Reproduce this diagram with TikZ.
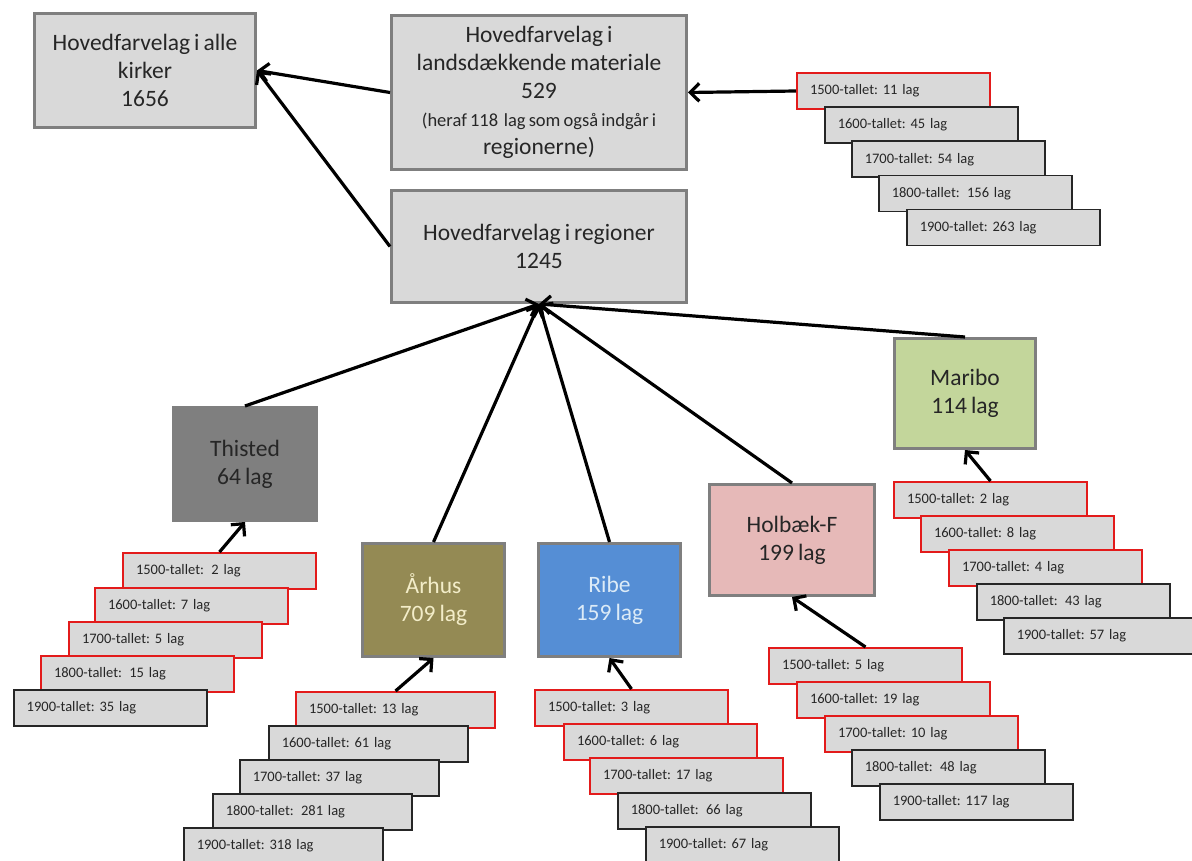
\documentclass[tikz,border=0pt]{standalone}
\usepackage{fontspec}
\setmainfont[WordSpace=0.75]{Carlito}
\newfontfamily\lagfont[WordSpace=0.55]{Carlito}
\usetikzlibrary{arrows.meta}
\definecolor{boxgray}{HTML}{D9D9D9}
\definecolor{edgegray}{HTML}{7F7F7F}
\definecolor{txt}{HTML}{262626}
\definecolor{lagred}{HTML}{E31B1B}
\definecolor{lagblack}{HTML}{262626}
\definecolor{thistedfill}{HTML}{7F7F7F}
\definecolor{aarhusfill}{HTML}{948A54}
\definecolor{aarhustxt}{HTML}{F3EDC9}
\definecolor{ribefill}{HTML}{558ED5}
\definecolor{ribetxt}{HTML}{DCEBF7}
\definecolor{holbaekfill}{HTML}{E6B9B8}
\definecolor{maribofill}{HTML}{C3D69B}
\newcommand\xsp{\hspace{2.5pt}}
\frenchspacing
\tikzset{
  mainbox/.style={draw=edgegray, line width=3pt, fill=boxgray, text=txt, align=center,
    inner sep=0pt, anchor=north west, font=\frenchspacing\fontsize{23.5}{28}\selectfont},
  regbox/.style={mainbox, fill=#1},
  lagbox/.style={fill=boxgray, text=txt, align=left, anchor=north west,
    inner xsep=13pt, inner ysep=0pt, text width=167pt, minimum height=36pt,
    font=\lagfont\frenchspacing\fontsize{14.5}{16}\selectfont},
  widelag/.style={text width=173pt},
  redlag/.style={lagbox, draw=lagred, line width=2pt},
  blacklag/.style={lagbox, draw=lagblack, line width=1.5pt},
  arr/.style={line width=3.2pt, draw=black, -{Straight Barb[length=9pt,width=18pt]}}
}
\begin{document}
\begin{tikzpicture}[x=1pt,y=-1pt]
\useasboundingbox (0,0) rectangle (1192,861);

% main boxes
\node[mainbox, minimum width=221pt, minimum height=114pt] (kirker) at (33,12)
  {Hovedfarvelag i alle\\kirker\\1656};
\node[mainbox, minimum width=295pt, minimum height=154pt] (lands) at (390,14)
  {Hovedfarvelag i\\landsdækkende materiale\\529\\\fontsize{18.5}{27}\selectfont (heraf 118\xsp{} lag som også indgår i\\regionerne)};
\node[mainbox, minimum width=295pt, minimum height=112pt] (regioner) at (390,189)
  {Hovedfarvelag i regioner\\1245};

% region boxes
\node[regbox=thistedfill, draw=thistedfill, minimum width=143pt, minimum height=113pt] (thisted) at (172,406)
  {Thisted\\64 lag};
\node[regbox=aarhusfill, text=aarhustxt, minimum width=142pt, minimum height=113pt] (aarhus) at (361,542)
  {Århus\\709 lag};
\node[regbox=ribefill, text=ribetxt, minimum width=142pt, minimum height=113pt] (ribe) at (537,542)
  {Ribe\\159 lag};
\node[regbox=holbaekfill, minimum width=165pt, minimum height=111pt] (holbaek) at (708,483)
  {Holbæk-F\\199 lag};
\node[regbox=maribofill, minimum width=141pt, minimum height=110pt] (maribo) at (893,337)
  {Maribo\\114 lag};

% national stack
\node[redlag]   (n1) at (796,72)    {1500-tallet: 11 lag};
\node[blacklag] (n2) at (824,106.3) {1600-tallet: 45 lag};
\node[blacklag] (n3) at (851,140.5) {1700-tallet: 54 lag};
\node[blacklag] (n4) at (878,174.8) {1800-tallet:\xsp{} 156 lag};
\node[blacklag] (n5) at (906,209)   {1900-tallet: 263 lag};

% Thisted stack
\node[redlag]   (t1) at (122,552) {1500-tallet:\xsp{} 2 lag};
\node[redlag]   (t2) at (94,587)  {1600-tallet: 7 lag};
\node[redlag]   (t3) at (68,621)  {1700-tallet: 5 lag};
\node[redlag]   (t4) at (40,655)  {1800-tallet:\xsp{} 15 lag};
\node[blacklag] (t5) at (13,689)  {1900-tallet: 35 lag};

% Aarhus stack
\node[redlag, widelag]   (a1) at (295,691) {1500-tallet: 13 lag};
\node[blacklag, widelag] (a2) at (268,725) {1600-tallet: 61 lag};
\node[blacklag, widelag] (a3) at (239,759) {1700-tallet: 37 lag};
\node[blacklag, widelag] (a4) at (212,793) {1800-tallet:\xsp{} 281 lag};
\node[blacklag, widelag] (a5) at (183,827) {1900-tallet: 318 lag};

% Ribe stack
\node[redlag]   (r1) at (534,689) {1500-tallet: 3 lag};
\node[redlag]   (r2) at (563,723) {1600-tallet: 6 lag};
\node[redlag]   (r3) at (589,757) {1700-tallet: 17 lag};
\node[blacklag] (r4) at (617,792) {1800-tallet:\xsp{} 66 lag};
\node[blacklag] (r5) at (645,826) {1900-tallet: 67 lag};

% Holbaek stack
\node[redlag]   (h1) at (768,647) {1500-tallet: 5 lag};
\node[redlag]   (h2) at (796,681) {1600-tallet: 19 lag};
\node[redlag]   (h3) at (824,715) {1700-tallet: 10 lag};
\node[blacklag] (h4) at (851,749) {1800-tallet:\xsp{} 48 lag};
\node[blacklag] (h5) at (879,783) {1900-tallet: 117 lag};

% Maribo stack
\node[redlag]   (m1) at (893,481)  {1500-tallet: 2 lag};
\node[redlag]   (m2) at (920,515)  {1600-tallet: 8 lag};
\node[redlag]   (m3) at (948,549)  {1700-tallet: 4 lag};
\node[blacklag] (m4) at (976,583)  {1800-tallet:\xsp{} 43 lag};
\node[blacklag] (m5) at (1003,617) {1900-tallet: 57 lag};

% connectors
\draw[arr] (lands.west) -- (kirker.east);
\draw[arr] (regioner.west) -- (kirker.east);
\draw[arr] (n1.west) -- (lands.east);

\draw[arr] (thisted.north) -- (regioner.south);
\draw[arr] (aarhus.north) -- (regioner.south);
\draw[arr] (ribe.north) -- (regioner.south);
\draw[arr] (holbaek.north) -- (regioner.south);
\draw[arr] (maribo.north) -- (regioner.south);

\draw[arr] (t1.north) -- (thisted.south);
\draw[arr] (a1.north) -- (aarhus.south);
\draw[arr] (r1.north) -- (ribe.south);
\draw[arr] (h1.north) -- (holbaek.south);
\draw[arr] (m1.north) -- (maribo.south);
\end{tikzpicture}
\end{document}
